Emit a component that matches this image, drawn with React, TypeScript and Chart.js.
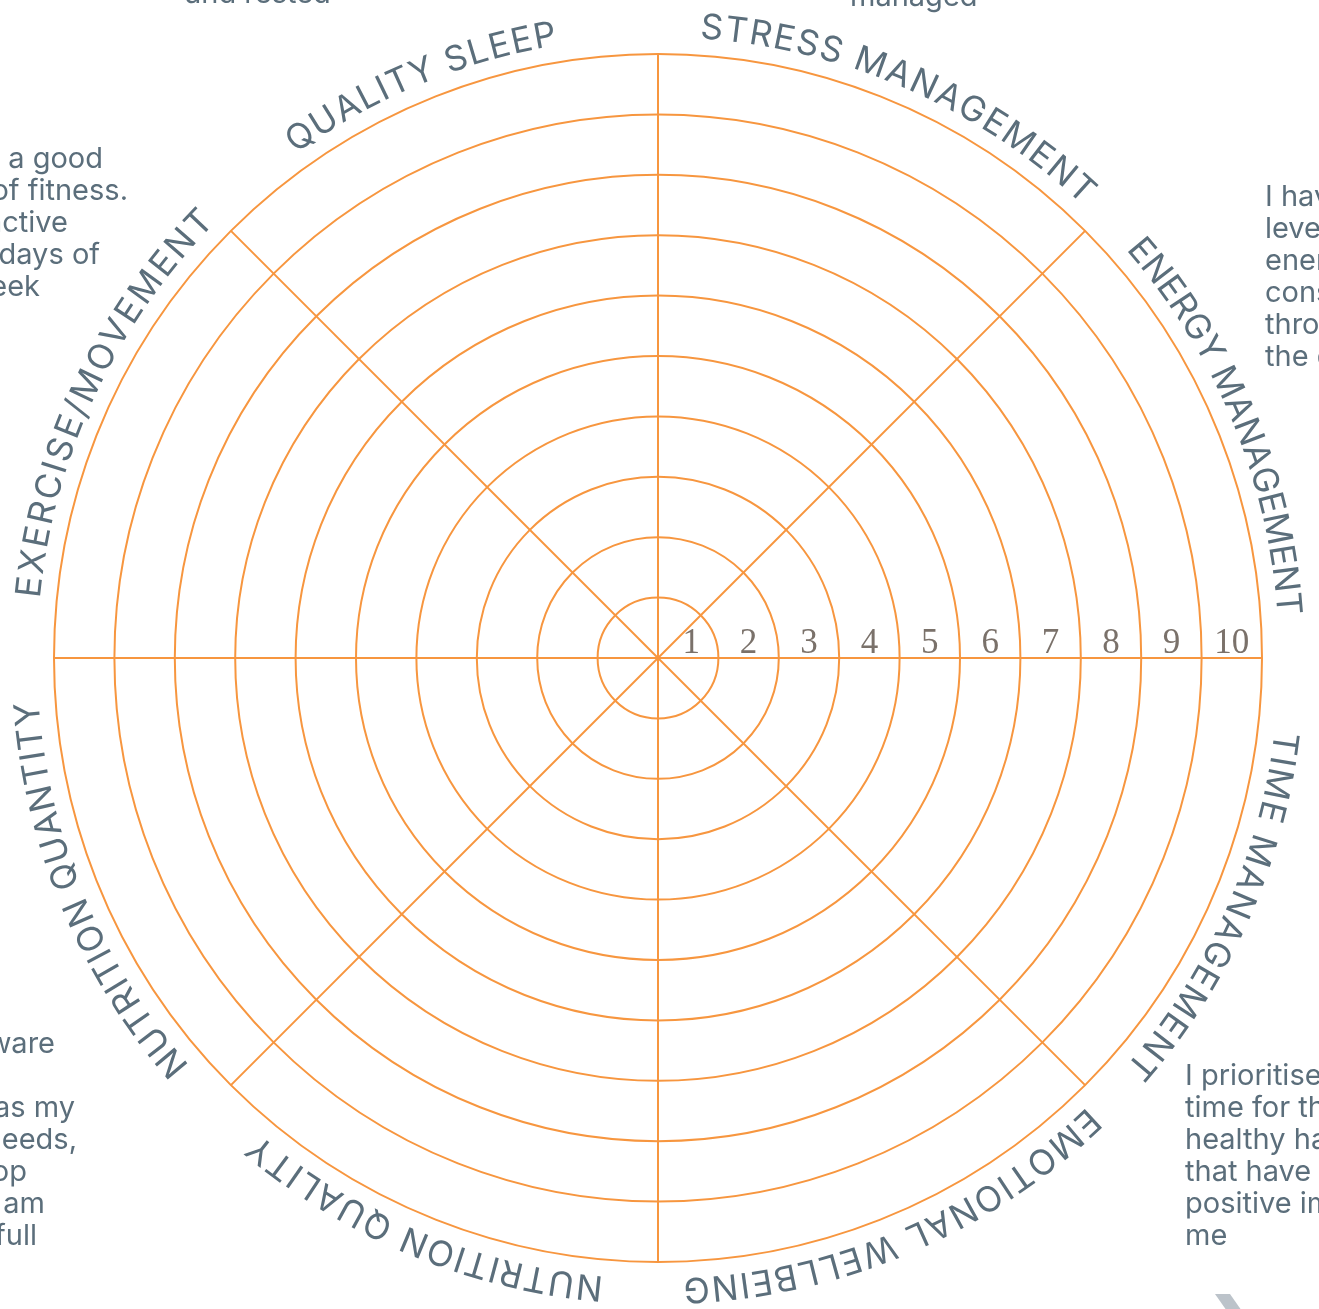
import React, { useEffect, useRef } from "react";
import { Chart, registerables } from "chart.js";

Chart.register(...registerables);

// ---------- data ----------
const categories = [
  "STRESS MANAGEMENT",
  "ENERGY MANAGEMENT",
  "TIME MANAGEMENT",
  "EMOTIONAL WELLBEING",
  "NUTRITION QUALITY",
  "NUTRITION QUANTITY",
  "EXERCISE/MOVEMENT",
  "QUALITY SLEEP",
];
// blank wheel – no scores filled in yet
const scores: (number | null)[] = [null, null, null, null, null, null, null, null];
const tickLabels = ["1", "2", "3", "4", "5", "6", "7", "8", "9", "10"];

const noteSleep = ["and rested"];
const noteStress = ["managed"];
const noteEnergy = ["I have good", "levels of", "energy", "consistently", "throughout", "the day"];
const noteTime = ["I prioritise", "time for the", "healthy habits", "that have a", "positive impact on", "me"];
const noteQuantity = ["I am aware", "I eat", "food as my", "body needs,", "and I stop", "when I am", "full"];
const noteExercise = ["I have a good", "level of fitness.", "I am active", "3+ days of", "the week"];

// ---------- layout / style ----------
const ORANGE = "#f7963f";
const SLATE = "#5b6e7b";
const TICK_GREY = "#7a716a";
const LABEL_SPAN_DEG = [39.3, 37.2, 34.5, 41.4, 35, 37, 39, 26.4];
const LABEL_SHIFT_DEG = [1, 0, 1.5, -0.5, 0, 0, 2.5, 0];

type Block = { lines: string[]; x: number; y: number; align: CanvasTextAlign; rightEnds?: number[] };
const noteBlocks: Block[] = [
  { lines: noteSleep, x: 185, y: 3, align: "left" },
  { lines: noteStress, x: 850, y: 6, align: "left" },
  { lines: noteEnergy, x: 1265, y: 206, align: "left" },
  { lines: noteTime, x: 1185, y: 1085, align: "left" },
  { lines: noteQuantity, x: 0, y: 1053, align: "right", rightEnds: [55, -10, 75, 77, 27, 45, 37] },
  { lines: noteExercise, x: 0, y: 168, align: "right", rightEnds: [103, 128, 68, 100, 40] },
];

const wheelDecor = {
  id: "wheelDecor",
  afterDraw(chart: any) {
    const scale = chart.scales.r;
    const ctx: CanvasRenderingContext2D = chart.ctx;
    const cx = scale.xCenter;
    const cy = scale.yCenter;

    ctx.save();
    // numbers along the right-hand axis
    ctx.font = '35px "Liberation Serif"';
    ctx.fillStyle = TICK_GREY;
    ctx.textAlign = "center";
    ctx.textBaseline = "alphabetic";
    tickLabels.forEach((t, i) => {
      const d = scale.getDistanceFromCenterForValue(i + 0.5);
      ctx.fillText(t, cx + d + (i === 0 ? 3 : 0), cy - 5);
    });

    // curved category labels
    ctx.font = '400 35px Inter';
    ctx.fillStyle = SLATE;
    const R = scale.drawingArea + 17;
    const step = (2 * Math.PI) / categories.length;
    categories.forEach((label, i) => {
      const mid = scale.getIndexAngle(i) - Math.PI / 2 + step / 2 + (LABEL_SHIFT_DEG[i] * Math.PI) / 180;
      const chars = Array.from(label);
      const widths = chars.map((c) => ctx.measureText(c).width);
      const sum = widths.reduce((a, b) => a + b, 0);
      const span = ((LABEL_SPAN_DEG[i] * Math.PI) / 180) * R;
      const gap = (span - sum) / (chars.length - 1);
      let pos = -span / 2;
      chars.forEach((c, k) => {
        const a = mid + (pos + widths[k] / 2) / R;
        ctx.save();
        ctx.translate(cx + R * Math.cos(a), cy + R * Math.sin(a));
        ctx.rotate(a + Math.PI / 2);
        ctx.textAlign = "center";
        ctx.fillText(c, 0, 0);
        ctx.restore();
        pos += widths[k] + gap;
      });
    });

    // surrounding description notes
    ctx.font = '400 29px Inter';
    ctx.fillStyle = SLATE;
    noteBlocks.forEach((b) => {
      b.lines.forEach((line, k) => {
        const y = b.y + k * 32;
        if (b.align === "right" && b.rightEnds) {
          ctx.textAlign = "right";
          ctx.fillText(line, b.rightEnds[k], y);
        } else {
          ctx.textAlign = "left";
          ctx.fillText(line, b.x, y);
        }
      });
    });
    ctx.restore();
  },
};

export default function App() {
  const ref = useRef<HTMLCanvasElement | null>(null);

  useEffect(() => {
    if (!ref.current) return;
    const chart = new Chart(ref.current, {
      type: "radar",
      data: {
        labels: categories,
        datasets: [
          {
            label: "Score",
            data: scores as any,
            borderWidth: 0,
            pointRadius: 0,
            backgroundColor: "rgba(0,0,0,0)",
            borderColor: "rgba(0,0,0,0)",
          },
        ],
      },
      options: {
        responsive: false,
        animation: false,
        devicePixelRatio: window.devicePixelRatio || 1,
        layout: { padding: { left: 54, right: 57, top: 54, bottom: 47 } },
        plugins: { legend: { display: false }, tooltip: { enabled: false } },
        scales: {
          r: {
            min: 0,
            max: 10,
            ticks: { stepSize: 1, display: false },
            grid: { circular: true, color: ORANGE, lineWidth: 2 },
            angleLines: { color: ORANGE, lineWidth: 2 },
            pointLabels: { display: false },
          },
        },
      } as any,
      plugins: [wheelDecor],
    });
    return () => chart.destroy();
  }, []);

  return (
    <div
      style={{
        position: "absolute",
        left: 0,
        top: 0,
        width: 1319,
        height: 1309,
        overflow: "hidden",
        background: "#ffffff",
      }}
    >
      <canvas ref={ref} width={1319} height={1309} style={{ display: "block", width: 1319, height: 1309 }} />
      <div
        style={{
          position: "absolute",
          left: 1222,
          top: 1294,
          width: 15,
          height: 20,
          background: "#bcc3ca",
          transform: "skewX(35deg)",
        }}
      />
    </div>
  );
}
